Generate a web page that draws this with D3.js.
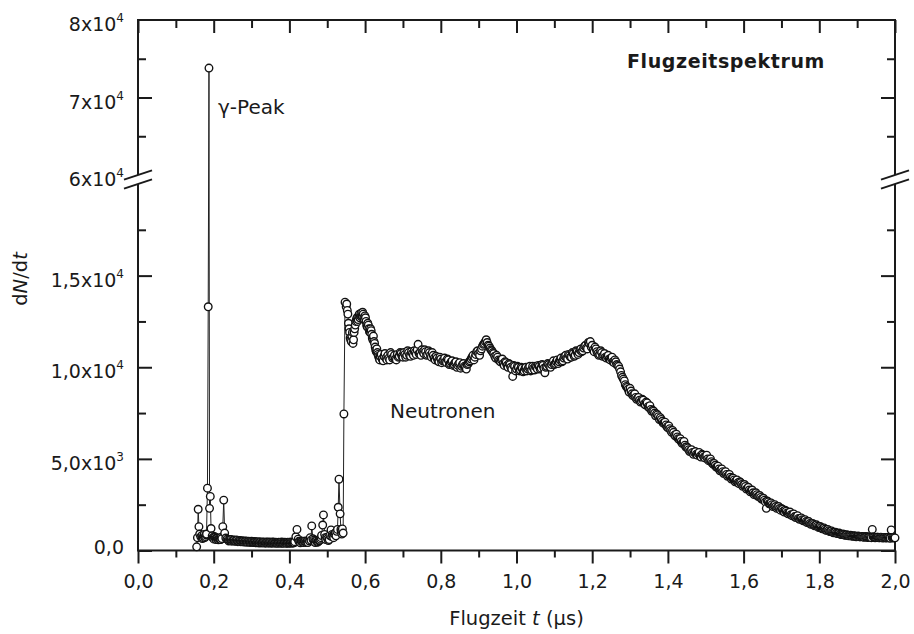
<!DOCTYPE html>
<html>
<head>
<meta charset="utf-8">
<script src="https://cdn.jsdelivr.net/npm/d3@7/dist/d3.min.js"></script>
<style>
  body { margin: 0; background: #fff; }
  text { font-family: "DejaVu Sans", Verdana, sans-serif; fill: #1a1a1a; }
</style>
</head>
<body>
<svg id="chart" width="914" height="634"></svg>
<script>
// Time-of-flight spectrum: [flight time t in µs, dN/dt]
const gammaRegion = [
  [0.155,200],[0.157,700],[0.159,2250],[0.161,1300],[0.163,900],[0.166,750],[0.169,820],[0.170,650],
  [0.172,700],[0.1735,820],[0.175,880],[0.1765,700],[0.178,760],[0.1795,850],[0.181,900],[0.1835,3400],
  [0.1855,13300],[0.1875,73800],[0.189,2300],[0.191,2950],[0.193,1200],[0.196,800],[0.1975,700],
  [0.199,700],[0.2005,620],[0.202,760],[0.2035,720],[0.205,640],[0.2065,600],[0.208,700],[0.2095,680],
  [0.211,620],[0.2125,580],[0.214,660],[0.2155,650],[0.217,600],[0.2185,600],[0.220,720],[0.2215,650],
  [0.224,1300],[0.2265,2750],[0.229,950],[0.232,680],[0.235,620]
];
const flatBackground = [
  [0.238,580],[0.240,520],[0.242,560],[0.244,600],[0.246,590],[0.248,510],[0.250,540],[0.252,580],
  [0.254,560],[0.256,500],[0.258,520],[0.260,570],[0.262,550],[0.264,480],[0.266,500],[0.268,550],
  [0.270,530],[0.272,470],[0.274,490],[0.276,530],[0.278,510],[0.280,460],[0.282,480],[0.284,520],
  [0.286,500],[0.288,450],[0.290,470],[0.292,510],[0.294,490],[0.296,440],[0.298,460],[0.300,500],
  [0.302,480],[0.304,430],[0.306,450],[0.308,490],[0.310,470],[0.312,420],[0.314,450],[0.316,480],
  [0.318,440],[0.320,410],[0.322,460],[0.324,470],[0.326,430],[0.328,410],[0.330,450],[0.332,470],
  [0.334,440],[0.336,400],[0.338,420],[0.340,460],[0.342,450],[0.344,400],[0.346,430],[0.348,460],
  [0.350,440],[0.352,390],[0.354,420],[0.356,460],[0.358,450],[0.360,400],[0.362,430],[0.364,450],
  [0.366,410],[0.368,390],[0.370,440],[0.372,450],[0.374,420],[0.376,390],[0.378,430],[0.380,460],
  [0.382,410],[0.384,390],[0.386,440],[0.388,450],[0.390,420],[0.392,400],[0.394,400],[0.396,450],
  [0.398,430],[0.400,390],[0.402,410],[0.404,460],[0.406,440],[0.408,400],[0.410,420]
];
const neutronRise = [
  [0.4125,420],[0.414,480],[0.417,750],[0.420,1150],[0.423,620],[0.425,500],[0.427,470],[0.429,420],
  [0.431,520],[0.433,490],[0.435,450],[0.437,430],[0.439,500],[0.441,510],[0.443,440],[0.445,470],
  [0.447,520],[0.449,430],[0.451,580],[0.453,520],[0.455,700],[0.457,560],[0.459,1340],[0.462,640],
  [0.464,560],[0.466,480],[0.468,430],[0.470,560],[0.472,520],[0.474,450],[0.476,480],[0.478,530],
  [0.480,560],[0.482,620],[0.4835,700],[0.485,820],[0.488,1390],[0.490,1940],[0.493,880],[0.4945,700],
  [0.496,600],[0.499,720],[0.501,650],[0.503,540],[0.505,600],[0.507,820],[0.510,1120],[0.5115,760],
  [0.513,880],[0.515,820],[0.517,700],[0.519,900],[0.521,960],[0.523,800],[0.525,1050],[0.527,1150],
  [0.529,2360],[0.531,3890],[0.534,2000],[0.536,1150],[0.537,1050],[0.5385,900],[0.540,1180],
  [0.542,950],[0.544,7450],[0.547,13550]
];
const neutronPlateau = [
  [0.550,13300],[0.553,13100],[0.556,12400],[0.559,11900],[0.562,11500],[0.565,11700],[0.568,11300],
  [0.571,11900],[0.574,12300],[0.577,12600],[0.580,12500],[0.583,12800],[0.586,12700],[0.589,12950],
  [0.592,12800],[0.595,12900],[0.598,12600],[0.601,12700],[0.604,12300],[0.607,12400],[0.610,12100],
  [0.613,11900],[0.616,12000],[0.619,11600],[0.622,11700],[0.625,11300],[0.628,10950],[0.631,11000],
  [0.634,10700],[0.637,10500],[0.640,10600],[0.645,10450],[0.650,10600],[0.655,10500],[0.660,10650],
  [0.665,10400],[0.670,10700],[0.675,10550],[0.680,10450],[0.685,10700],[0.690,10600],[0.695,10750],
  [0.700,10550],[0.705,10700],[0.710,10650],[0.715,10800],[0.720,10600],[0.725,10750],[0.730,10900],
  [0.735,10700],[0.740,11250],[0.745,10800],[0.750,10950],[0.755,10750],[0.760,10850],[0.765,10700],
  [0.770,10800],[0.775,10550],[0.780,10650],[0.785,10400],[0.790,10500],[0.795,10300],[0.800,10450],
  [0.805,10350],[0.810,10500],[0.815,10250],[0.820,10400],[0.825,10200],[0.830,10350],[0.835,10150],
  [0.840,10300],[0.845,10100],[0.850,10250],[0.855,10050],[0.860,10200],[0.865,10000],[0.870,10150],
  [0.875,10300],[0.880,10450],[0.885,10650],[0.890,10550],[0.895,10850],[0.900,10750],[0.905,10900],
  [0.910,11150],[0.915,11300],[0.920,11500],[0.925,11200],[0.930,11050],[0.935,10900],[0.940,10750],
  [0.945,10500],[0.950,10550],[0.955,10350],[0.960,10400],[0.965,10200],[0.970,10300],[0.975,10100],
  [0.980,10200],[0.985,10000],[0.990,9500],[0.995,10050],[1.000,9900],[1.005,10000],[1.010,9850],
  [1.015,9950],[1.020,9800],[1.025,10000],[1.030,9900],[1.035,10050],[1.040,9850],[1.045,9950],
  [1.050,10050],[1.055,9900],[1.060,10050],[1.065,9950],[1.070,10100],[1.075,9700],[1.080,10050],
  [1.085,10150],[1.090,10000],[1.095,10250],[1.100,10150],[1.105,10300],[1.110,10200],[1.115,10400],
  [1.120,10300],[1.125,10500],[1.130,10650],[1.135,10450],[1.140,10650],[1.145,10550],[1.150,10750],
  [1.155,10650],[1.160,10850],[1.165,10800],[1.170,11000],[1.175,10900],[1.180,11150],[1.185,11050],
  [1.190,11350],[1.195,11400],[1.200,11200],[1.205,10850],[1.210,11000],[1.215,10750],[1.220,10700],
  [1.225,10800],[1.230,10650],[1.235,10550],[1.240,10600],[1.245,10450],[1.250,10500],[1.255,10300],
  [1.260,10400],[1.265,10150]
];
// intermediate channels of the plateau
const neutronPlateauB = [
  [0.5515,13450],[0.5545,12900],[0.5575,12100],[0.5605,11600],[0.5635,11400],[0.5665,11900],[0.5695,11500],
  [0.5725,12100],[0.5755,12500],[0.5785,12700],[0.5815,12600],[0.5845,12900],[0.5875,12800],[0.5905,12750],
  [0.5935,13000],[0.5965,12700],[0.5995,12800],[0.6025,12500],[0.6055,12200],[0.6085,12300],[0.6115,11950],
  [0.6145,12100],[0.6175,11800],[0.6205,11500],[0.6235,11400],[0.6265,11100],[0.6295,10850],[0.6325,10800],
  [0.6355,10600],[0.6385,10400],[0.6425,10700],[0.6475,10350],[0.6525,10750],[0.6575,10400],[0.6625,10500],
  [0.6675,10800],[0.6725,10500],[0.6775,10650],[0.6825,10400],[0.6875,10550],[0.6925,10800],[0.6975,10600],
  [0.7025,10800],[0.7075,10550],[0.7125,10900],[0.7175,10650],[0.7225,10850],[0.7275,10650],[0.7325,10800],
  [0.7375,10950],[0.7425,10750],[0.7475,10650],[0.7525,10850],[0.7575,10950],[0.7625,10650],[0.7675,10900],
  [0.7725,10650],[0.7775,10800],[0.7825,10500],[0.7875,10600],[0.7925,10350],[0.7975,10550],[0.8025,10250],
  [0.8075,10400],[0.8125,10300],[0.8175,10450],[0.8225,10150],[0.8275,10300],[0.8325,10100],[0.8375,10250],
  [0.8425,10000],[0.8475,10200],[0.8525,9950],[0.8575,10150],[0.8625,10050],[0.8675,9900],[0.8725,10200],
  [0.8775,10350],[0.8825,10550],[0.8875,10400],[0.8925,10700],[0.8975,10900],[0.9025,10650],[0.9075,11000],
  [0.9125,11250],[0.9175,11400],[0.9225,11350],[0.9275,11150],[0.9325,10950],[0.9375,10800],[0.9425,10600],
  [0.9475,10650],[0.9525,10400],[0.9575,10300],[0.9625,10450],[0.9675,10100],[0.9725,10250],[0.9775,10000],
  [0.9825,10150],[0.9875,9900],[0.9925,10100],[0.9975,9800],[1.0025,10050],[1.0075,9800],[1.0125,10000],
  [1.0175,9750],[1.0225,9950],[1.0275,9800],[1.0325,10000],[1.0375,9800],[1.0425,10050],[1.0475,9850],
  [1.0525,10000],[1.0575,10100],[1.0625,9900],[1.0675,10150],[1.0725,9950],[1.0775,10000],[1.0825,10200],
  [1.0875,10050],[1.0925,10150],[1.0975,10350],[1.1025,10200],[1.1075,10400],[1.1125,10300],[1.1175,10500],
  [1.1225,10350],[1.1275,10600],[1.1325,10500],[1.1375,10700],[1.1425,10550],[1.1475,10800],[1.1525,10600],
  [1.1575,10900],[1.1625,10700],[1.1675,10950],[1.1725,10850],[1.1775,11050],[1.1825,11200],[1.1875,11000],
  [1.1925,11300],[1.1975,11100],[1.2025,10950],[1.2075,11100],[1.2125,10850],[1.2175,10650],[1.2225,10900],
  [1.2275,10600],[1.2325,10750],[1.2375,10500],[1.2425,10650],[1.2475,10400],[1.2525,10550],[1.2575,10250],
  [1.2625,10300],[1.2675,10100]
];
const neutronTail = [
  [1.270,10050],[1.275,9750],[1.280,9450],[1.285,9250],[1.290,8950],[1.295,8800],[1.300,8850],
  [1.305,8550],[1.310,8500],[1.315,8350],[1.320,8300],[1.325,8200],[1.330,8150],[1.335,8200],
  [1.340,7950],[1.345,8050],[1.350,7800],[1.355,7700],[1.360,7650],[1.365,7500],[1.370,7450],
  [1.375,7300],[1.380,7250],[1.385,7050],[1.390,6950],[1.395,6850],[1.400,6700],[1.405,6650],
  [1.410,6450],[1.415,6450],[1.420,6250],[1.425,6200],[1.430,6050],[1.435,5950],[1.440,5900],
  [1.445,5750],[1.450,5650],[1.455,5500],[1.460,5450],[1.465,5350],[1.470,5350],[1.475,5250],
  [1.480,5300],[1.485,5150],[1.490,5250],[1.495,5100],[1.500,5150],[1.505,5000],[1.510,4950],
  [1.515,4850],[1.520,4700],[1.525,4650],[1.530,4550],[1.535,4450],[1.540,4400],[1.545,4300],
  [1.550,4250],[1.555,4150],[1.560,4100],[1.565,4000],[1.570,3950],[1.575,3850],[1.580,3800],
  [1.585,3700],[1.590,3750],[1.595,3600],[1.600,3550],[1.605,3500],[1.610,3400],[1.615,3300],
  [1.620,3250],[1.625,3150],[1.630,3100],[1.635,3050],[1.640,2950],[1.645,2900],[1.650,2800],
  [1.655,2750],[1.660,2300],[1.665,2650],[1.670,2550],[1.675,2500],[1.680,2450],[1.685,2400],
  [1.690,2350],[1.695,2300],[1.700,2300],[1.705,2150],[1.710,2200],[1.715,2050],[1.720,2050],
  [1.725,1950],[1.730,1950],[1.735,1850],[1.740,1850],[1.745,1750],[1.750,1750],[1.755,1680],
  [1.760,1650],[1.765,1580],[1.770,1550],[1.775,1480],[1.780,1450],[1.785,1420],[1.790,1360],
  [1.795,1330],[1.800,1280],[1.805,1250],[1.810,1190],[1.815,1160],[1.820,1110],[1.825,1080],
  [1.830,1050],[1.835,1000],[1.840,980],[1.845,950],[1.850,930],[1.855,900],[1.860,880],
  [1.865,870],[1.870,840],[1.875,830],[1.880,810],[1.885,800],[1.890,790],[1.895,780],
  [1.900,770],[1.905,760],[1.910,765],[1.915,750],[1.920,740],[1.925,745],[1.930,730],
  [1.935,720],[1.940,1150],[1.945,720],[1.950,710],[1.955,725],[1.960,700],[1.965,715],
  [1.970,700],[1.975,690],[1.980,705],[1.985,690],[1.990,1120],[1.995,700],[2.000,690]
];
// intermediate channels of the tail
const neutronTailB = [
  [1.2725,9900],[1.2775,9550],[1.2825,9350],[1.2875,9050],[1.2925,8900],[1.2975,8650],[1.3025,8700],
  [1.3075,8450],[1.3125,8550],[1.3175,8250],[1.3225,8350],[1.3275,8100],[1.3325,8250],[1.3375,8000],
  [1.3425,8100],[1.3475,7850],[1.3525,7900],[1.3575,7600],[1.3625,7600],[1.3675,7350],[1.3725,7400],
  [1.3775,7150],[1.3825,7150],[1.3875,6950],[1.3925,7000],[1.3975,6750],[1.4025,6800],[1.4075,6550],
  [1.4125,6550],[1.4175,6300],[1.4225,6350],[1.4275,6100],[1.4325,6100],[1.4375,5850],[1.4425,5950],
  [1.4475,5650],[1.4525,5600],[1.4575,5400],[1.4625,5500],[1.4675,5250],[1.4725,5400],[1.4775,5200],
  [1.4825,5350],[1.4875,5100],[1.4925,5200],[1.4975,5050],[1.5025,5200],[1.5075,4900],[1.5125,5000],
  [1.5175,4750],[1.5225,4750],[1.5275,4550],[1.5325,4600],[1.5375,4350],[1.5425,4450],[1.5475,4200],
  [1.5525,4300],[1.5575,4050],[1.5625,4150],[1.5675,3900],[1.5725,3950],[1.5775,3750],[1.5825,3850],
  [1.5875,3650],[1.5925,3700],[1.5975,3500],[1.6025,3600],[1.6075,3350],[1.6125,3450],[1.6175,3200],
  [1.6225,3300],[1.6275,3050],[1.6325,3150],[1.6375,2950],[1.6425,3000],[1.6475,2800],[1.6525,2850],
  [1.6575,2650],[1.6625,2700],[1.6675,2550],[1.6725,2600],[1.6775,2400],[1.6825,2500],[1.6875,2300],
  [1.6925,2400],[1.6975,2200],[1.7025,2250],[1.7075,2100],[1.7125,2150],[1.7175,2000],[1.7225,2100],
  [1.7275,1900],[1.7325,2000],[1.7375,1800],[1.7425,1900],[1.7475,1700],[1.7525,1780],[1.7575,1620],
  [1.7625,1680],[1.7675,1520],[1.7725,1580],[1.7775,1430],[1.7825,1480],[1.7875,1350],[1.7925,1400],
  [1.7975,1260],[1.8025,1310],[1.8075,1180],[1.8125,1230],[1.8175,1100],[1.8225,1150],[1.8275,1030],
  [1.8325,1070],[1.8375,970],[1.8425,1000],[1.8475,920],[1.8525,950],[1.8575,870],[1.8625,900],
  [1.8675,830],[1.8725,860],[1.8775,800],[1.8825,830],[1.8875,770],[1.8925,800],[1.8975,750],
  [1.9025,790],[1.9075,740],[1.9125,770],[1.9175,720],[1.9225,760],[1.9275,710],[1.9325,750],
  [1.9375,700],[1.9425,740],[1.9475,690],[1.9525,730],[1.9575,690],[1.9625,720],[1.9675,680],
  [1.9725,710],[1.9775,680],[1.9825,710],[1.9875,670],[1.9925,700],[1.9975,680]
];

// Axis ticks and labels
const xMajorTicks = [0, 0.2, 0.4, 0.6, 0.8, 1.0, 1.2, 1.4, 1.6, 1.8, 2.0];
const xMinorTicks = [0.1, 0.3, 0.5, 0.7, 0.9, 1.1, 1.3, 1.5, 1.7, 1.9];
const xTickLabels = ["0,0","0,2","0,4","0,6","0,8","1,0","1,2","1,4","1,6","1,8","2,0"];
const yLowMajorTicks = [0, 5000, 10000, 15000];
const yLowMinorTicks = [2500, 7500, 12500, 17500];
const yHighMajorTicks = [70000];
const yHighMinorTicks = [65000, 75000];
const yLabelValues = [0, 5000, 10000, 15000, 60000, 70000, 80000];
const yLabelMantissa = ["0,0", "5,0x10", "1,0x10", "1,5x10", "6x10", "7x10", "8x10"];
const yLabelExponent = ["", "3", "4", "4", "4", "4", "4"];

const allPoints = [...gammaRegion, ...flatBackground, ...neutronRise, ...neutronPlateau,
  ...neutronPlateauB, ...neutronTail, ...neutronTailB].sort((a, b) => a[0] - b[0]);

const svg = d3.select("#chart");
const plotLeft = 138, plotRight = 895, plotTop = 20, plotBottom = 550.5;

const x = d3.scaleLinear().domain([0, 2]).range([plotLeft, plotRight]);
// broken value axis: lower part 0..2x10^4, upper part 6x10^4..8x10^4
const yLow = d3.scaleLinear().domain([0, 20000]).range([plotBottom, 184]);
const yGap = d3.scaleLinear().domain([20000, 60000]).range([184, 175]);
const yHigh = d3.scaleLinear().domain([60000, 80000]).range([175, plotTop]);
const yPos = v => v <= 20000 ? yLow(v) : (v >= 60000 ? yHigh(v) : yGap(v));

const ink = "#1a1a1a";

// ---- bottom axis (ticks outward) ----
const gBottom = svg.append("g").attr("transform", `translate(0,${plotBottom})`);
gBottom.call(d3.axisBottom(x).tickValues(xMajorTicks).tickSize(13).tickSizeOuter(0).tickPadding(11)
  .tickFormat((d, i) => xTickLabels[i]));
gBottom.append("g").call(d3.axisBottom(x).tickValues(xMinorTicks).tickSize(7).tickSizeOuter(0).tickFormat(""));
gBottom.selectAll("text").attr("font-size", 19).attr("font-family", null).style("fill", ink);

// ---- top axis (ticks inward) ----
const gTop = svg.append("g").attr("transform", `translate(0,${plotTop})`);
gTop.call(d3.axisBottom(x).tickValues(xMajorTicks).tickSize(13).tickSizeOuter(0).tickFormat(""));
gTop.append("g").call(d3.axisBottom(x).tickValues(xMinorTicks).tickSize(8).tickSizeOuter(0).tickFormat(""));

// ---- left and right axes (ticks inward) ----
function sideTicks(xPos, dir) {
  const g = svg.append("g").attr("transform", `translate(${xPos},0)`);
  const mk = (scale, vals, len) => {
    const ax = dir < 0 ? d3.axisRight(scale) : d3.axisLeft(scale);
    g.append("g").call(ax.tickValues(vals).tickSize(-len).tickSizeOuter(0).tickFormat(""));
  };
  mk(yLow, yLowMajorTicks, 14);
  mk(yLow, yLowMinorTicks, 8);
  mk(yHigh, yHighMajorTicks, 14);
  mk(yHigh, yHighMinorTicks, 8);
  return g;
}
sideTicks(plotLeft, 1);
sideTicks(plotRight, -1);

// tick labels on the value axis
const gLabels = svg.append("g");
yLabelValues.forEach((v, i) => {
  const t = gLabels.append("text")
    .attr("x", plotLeft - 14)
    .attr("y", yPos(v) + (yLabelExponent[i] ? 11 : 3.5))
    .attr("text-anchor", "end")
    .attr("font-size", 19)
    .text(yLabelMantissa[i]);
  if (yLabelExponent[i]) {
    t.append("tspan").attr("dy", -9).attr("font-size", 12).text(yLabelExponent[i]);
  }
});

svg.selectAll(".domain").remove();
svg.selectAll(".tick line").attr("stroke", ink).attr("stroke-width", 2);

// ---- frame ----
const frame = svg.append("g").attr("stroke", ink).attr("stroke-width", 2).attr("fill", "none");
frame.append("line").attr("x1", plotLeft - 1).attr("x2", plotRight + 1).attr("y1", plotBottom).attr("y2", plotBottom);
frame.append("line").attr("x1", plotLeft - 1).attr("x2", plotRight + 1).attr("y1", plotTop).attr("y2", plotTop);
[plotLeft, plotRight].forEach(xp => {
  frame.append("line").attr("x1", xp).attr("x2", xp).attr("y1", plotTop).attr("y2", yHigh(60000));
  frame.append("line").attr("x1", xp).attr("x2", xp).attr("y1", yLow(20000)).attr("y2", plotBottom);
});

// axis break marks
[plotLeft, plotRight].forEach(xp => {
  const yU = yHigh(60000), yL = yLow(20000);
  const dx = 14, s = 0.33;
  svg.append("path")
    .attr("d", `M${xp - dx},${yU + dx * s}L${xp + dx},${yU - dx * s}L${xp + dx},${yL - dx * s}L${xp - dx},${yL + dx * s}Z`)
    .attr("fill", "#fff");
  [yU, yL].forEach(yy => {
    svg.append("line")
      .attr("x1", xp - dx).attr("y1", yy + dx * s)
      .attr("x2", xp + dx).attr("y2", yy - dx * s)
      .attr("stroke", ink).attr("stroke-width", 2);
  });
});

// ---- data: connecting line and open circles ----
const line = d3.line().x(d => x(d[0])).y(d => yPos(d[1]));
svg.append("path").datum(allPoints)
  .attr("d", line).attr("fill", "none").attr("stroke", "#222").attr("stroke-width", 1);

svg.append("g").selectAll("circle").data(allPoints).join("circle")
  .attr("cx", d => x(d[0])).attr("cy", d => yPos(d[1])).attr("r", 3.8)
  .attr("fill", "#fff").attr("stroke", "#111").attr("stroke-width", 1.35);

// ---- titles and annotations ----
svg.append("text").attr("x", 627).attr("y", 68).attr("font-size", 19).attr("font-weight", "bold")
  .attr("letter-spacing", 0.6).text("Flugzeitspektrum");

svg.append("text").attr("x", 218).attr("y", 114).attr("font-size", 20).text("γ-Peak");
svg.append("text").attr("x", 390).attr("y", 418).attr("font-size", 20).text("Neutronen");

const xTitle = svg.append("text").attr("x", (plotLeft + plotRight) / 2).attr("y", 625)
  .attr("text-anchor", "middle").attr("font-size", 19.5);
xTitle.append("tspan").text("Flugzeit ");
xTitle.append("tspan").attr("font-style", "italic").text("t");
xTitle.append("tspan").text(" (µs)");

const yTitle = svg.append("text").attr("transform", "translate(27,279) rotate(-90)")
  .attr("text-anchor", "middle").attr("font-size", 19.5);
yTitle.append("tspan").text("d");
yTitle.append("tspan").attr("font-style", "italic").text("N");
yTitle.append("tspan").text("/d");
yTitle.append("tspan").attr("font-style", "italic").text("t");
</script>
</body>
</html>
